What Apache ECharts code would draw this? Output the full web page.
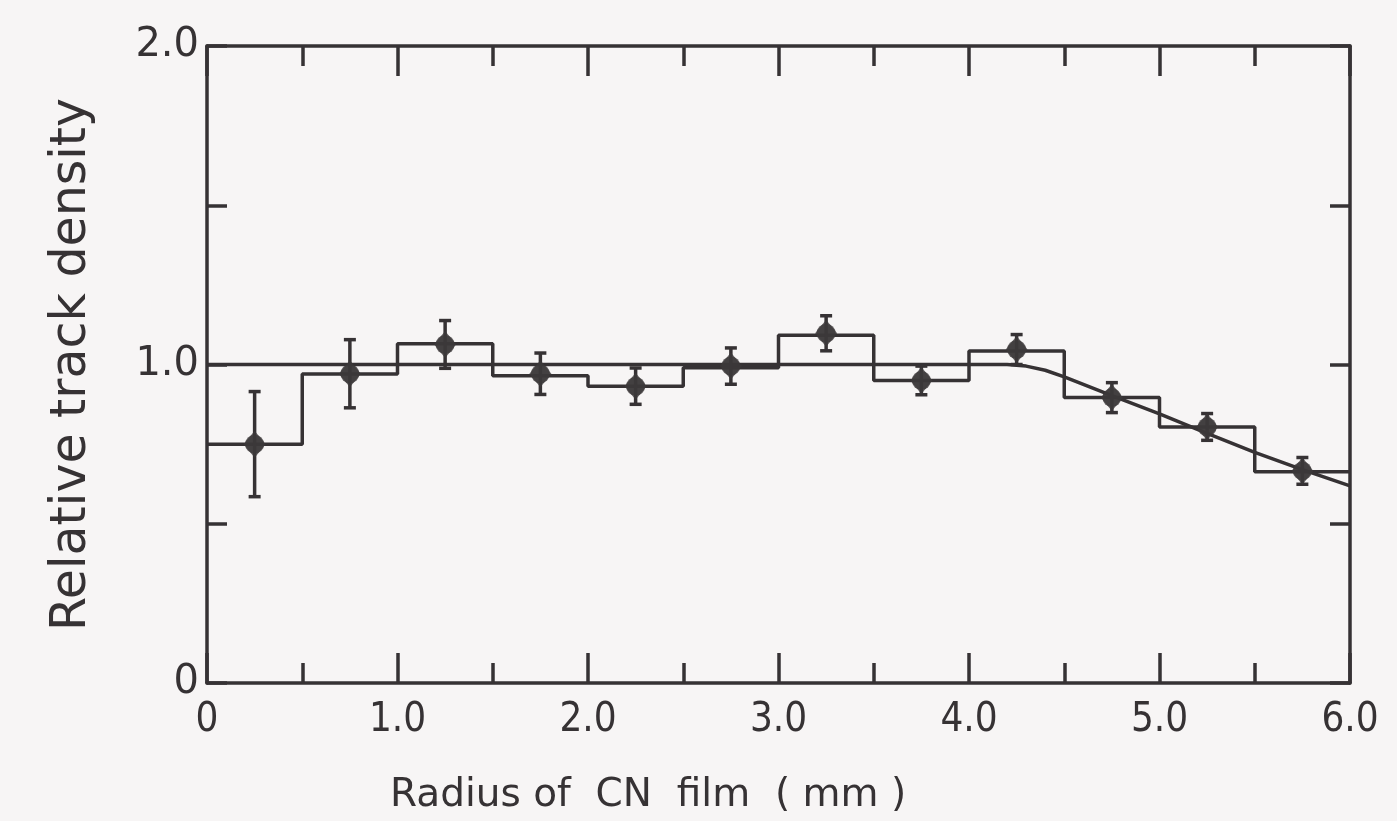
<!DOCTYPE html>
<html>
<head>
<meta charset="utf-8">
<script src="https://cdn.jsdelivr.net/npm/echarts@6/dist/echarts.min.js"></script>
<style>
html,body{margin:0;padding:0;background:#f7f5f5;}
#chart{width:1397px;height:821px;}
</style>
</head>
<body>
<div id="chart"></div>
<script>
// Histogram bins (mm) and relative track density
const binEdges = [0, 0.5, 1.0, 1.5, 2.0, 2.5, 3.0, 3.5, 4.0, 4.5, 5.0, 5.5, 6.0];
const binValues = [0.75, 0.97, 1.065, 0.965, 0.932, 0.99, 1.092, 0.95, 1.042, 0.896, 0.804, 0.663];
// Measured points with error bars
const pointX = [0.25, 0.75, 1.25, 1.75, 2.25, 2.75, 3.25, 3.75, 4.25, 4.75, 5.25, 5.75];
const pointY = [0.75, 0.971, 1.063, 0.971, 0.932, 0.995, 1.098, 0.95, 1.047, 0.896, 0.804, 0.666];
const pointErr = [0.165, 0.107, 0.075, 0.065, 0.057, 0.057, 0.055, 0.045, 0.047, 0.047, 0.042, 0.042];
// Fitted curve
const curveX = [0, 4.2, 4.3, 4.4, 4.5, 4.75, 5.0, 5.25, 5.5, 5.75, 6.0];
const curveY = [1.0, 1.0, 0.995, 0.982, 0.961, 0.902, 0.845, 0.784, 0.724, 0.67, 0.619];
// Tick labels
const xTickLabels = {0: '0', 1: '1.0', 2: '2.0', 3: '3.0', 4: '4.0', 5: '5.0', 6: '6.0'};
const yTickLabels = {0: '0', 1: '1.0', 2: '2.0'};
const xTitle = 'Radius of  CN  film  ( mm )';
const yTitle = 'Relative track density';

const ink = '#363234';
const histData = binValues.map((v, i) => [binEdges[i], v]);
histData.push([binEdges[binEdges.length - 1], binValues[binValues.length - 1]]);
const curveData = curveX.map((x, i) => [x, curveY[i]]);
const errData = pointX.map((x, i) => [x, pointY[i] - pointErr[i], pointY[i] + pointErr[i]]);
const ptData = pointX.map((x, i) => [x, pointY[i]]);

const chart = echarts.init(document.getElementById('chart'));
const fontMain = "'DejaVu Sans', sans-serif";
const lw = 3.5;
const axisLine = {show: true, onZero: false, lineStyle: {color: ink, width: lw}};
chart.setOption({
  backgroundColor: '#f7f5f5',
  animation: false,
  title: {text: xTitle, left: 385, top: 771,
    textStyle: {color: ink, fontSize: 39, fontWeight: 'normal', fontFamily: fontMain}},
  grid: {left: 207, right: 47, top: 46, bottom: 138},
  xAxis: [{
    type: 'value', min: 0, max: 6, interval: 1, position: 'bottom',
    axisLine: axisLine,
    axisTick: {show: true, inside: true, length: 30, lineStyle: {color: ink, width: lw}},
    minorTick: {show: true, splitNumber: 2, length: 20, lineStyle: {color: ink, width: lw}},
    splitLine: {show: false},
    axisLabel: {formatter: v => xTickLabels[Math.round(v)] ?? '', color: ink, fontSize: 40,
      fontFamily: "'Liberation Sans Narrow', 'DejaVu Sans Condensed', 'DejaVu Sans', sans-serif", margin: 18}
  }, {
    type: 'value', min: 0, max: 6, interval: 1, position: 'top',
    axisLine: axisLine,
    axisTick: {show: true, inside: true, length: 30, lineStyle: {color: ink, width: lw}},
    minorTick: {show: true, splitNumber: 2, length: 20, lineStyle: {color: ink, width: lw}},
    splitLine: {show: false}, axisLabel: {show: false}
  }],
  yAxis: [{
    type: 'value', min: 0, max: 2, interval: 0.5, position: 'left',
    axisLine: axisLine,
    axisTick: {show: true, inside: true, length: 20, lineStyle: {color: ink, width: lw}},
    splitLine: {show: false},
    axisLabel: {formatter: v => (Math.abs(v - Math.round(v)) < 1e-6 ? (yTickLabels[Math.round(v)] ?? '') : ''),
      color: ink, fontSize: 40, fontFamily: fontMain, margin: 8},
    name: yTitle, nameLocation: 'middle', nameGap: 110,
    nameTextStyle: {color: ink, fontSize: 49, fontFamily: fontMain}
  }, {
    type: 'value', min: 0, max: 2, interval: 0.5, position: 'right',
    axisLine: axisLine,
    axisTick: {show: true, inside: true, length: 20, lineStyle: {color: ink, width: lw}},
    splitLine: {show: false}, axisLabel: {show: false}
  }],
  series: [{
    type: 'line', data: histData, step: 'end', showSymbol: false,
    lineStyle: {color: ink, width: lw}, z: 3
  }, {
    type: 'line', data: curveData, showSymbol: false, smooth: false,
    lineStyle: {color: ink, width: lw}, z: 3
  }, {
    type: 'custom', data: errData, z: 4,
    renderItem: function (params, api) {
      const x = api.value(0);
      const lo = api.coord([x, api.value(1)]);
      const hi = api.coord([x, api.value(2)]);
      const cw = 6;
      const st = {stroke: ink, lineWidth: lw};
      return {type: 'group', children: [
        {type: 'line', shape: {x1: lo[0], y1: lo[1], x2: hi[0], y2: hi[1]}, style: st},
        {type: 'line', shape: {x1: lo[0] - cw, y1: lo[1], x2: lo[0] + cw, y2: lo[1]}, style: st},
        {type: 'line', shape: {x1: hi[0] - cw, y1: hi[1], x2: hi[0] + cw, y2: hi[1]}, style: st}
      ]};
    }
  }, {
    type: 'scatter', data: ptData, symbol: 'diamond', symbolSize: [22, 27], z: 5,
    itemStyle: {color: '#3c383a'}
  }, {
    type: 'scatter', data: ptData, symbol: 'circle', symbolSize: 19, z: 5,
    itemStyle: {color: '#3c383a'}
  }]
});
</script>
</body>
</html>
